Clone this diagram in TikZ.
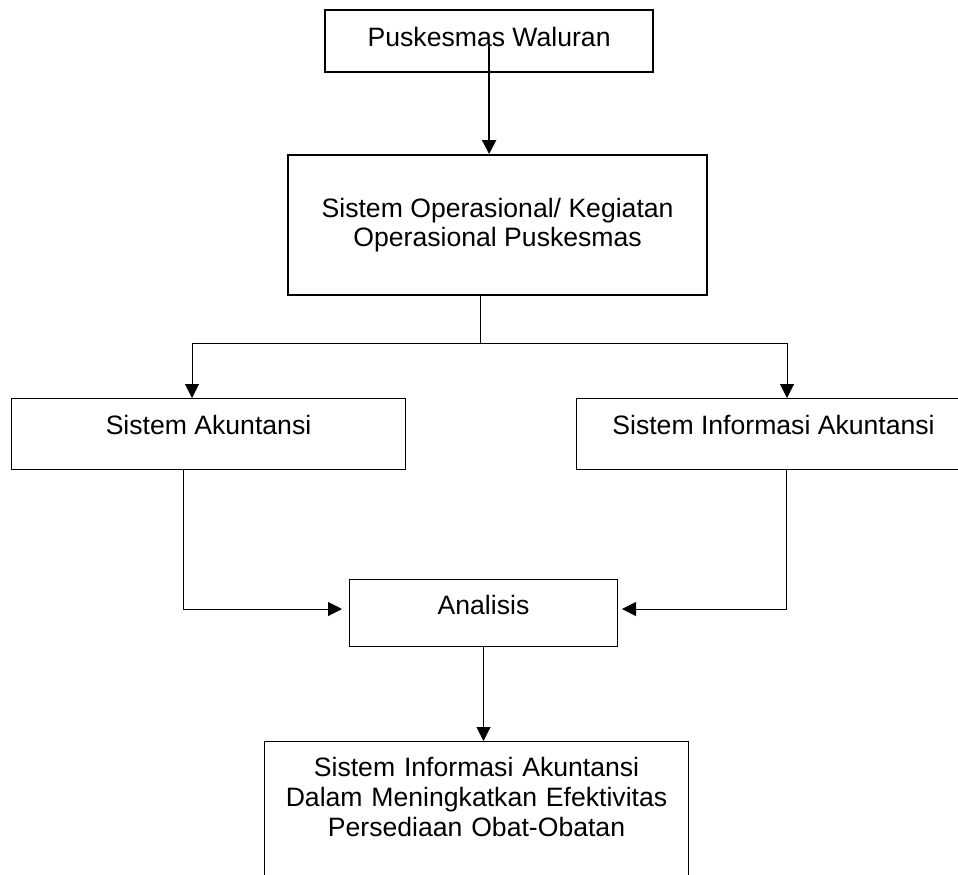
\documentclass[tikz,border=0pt]{standalone}
\usepackage{fontspec}
\setmainfont{Liberation Sans}
\usetikzlibrary{positioning,arrows.meta}

\begin{document}
\begin{tikzpicture}[
% Change style
	x=1pt, y=1pt,
	line width=0.5pt,
	font=\fontsize{13.3}{14.2}\selectfont,
	box/.style={draw, rectangle, anchor=north west, inner xsep=0pt, inner ysep=0pt, align=center},
	bold/.style={line width=1.1pt},
	post/.style={->, shorten >=0pt, >={Triangle[length=7pt,width=7pt]}}]

\useasboundingbox (0,0) rectangle (479,-437);
\clip (0,0) rectangle (479,-437);

% Puskesmas
\node[box, bold, minimum width=164pt,
	text height=18pt, text depth=13pt] (puskesmas) at (162,-4.5) {Puskesmas Waluran};

% Operasional
\node[box, bold, minimum width=209.5pt,
	minimum height=70pt] (operasional) at (143.5,-77) {Sistem Operasional/ Kegiatan\\Operasional Puskesmas};

% Sistem Akuntansi
\node[box, minimum width=197pt,
	text height=17.75pt, text depth=17.75pt] (akuntansi) at (5.5,-199) {Sistem Akuntansi};

% Sistem Informasi Akuntansi
\node[box, minimum width=197pt,
	text height=17.75pt, text depth=17.75pt] (sia) at (288,-199) {Sistem Informasi Akuntansi};

% Analisis
\node[box, minimum width=134pt,
	text height=17.25pt, text depth=16.25pt] (analisis) at (174.5,-289.5) {Analisis};

% Hasil
\node[box, text width=212pt, font=\fontsize{13.3}{15}\selectfont,
	text height=17.25pt, text depth=90pt] (hasil) at (132,-370.5) {Sistem Informasi Akuntansi\\Dalam Meningkatkan Efektivitas\\Persediaan Obat-Obatan};

% Branch points
\coordinate (cabang) at (240,-171.5);
\coordinate (kiri) at (96,-171.5);
\coordinate (kanan) at (393.5,-171.5);
\coordinate (belok1) at (91.5,-304.5);
\coordinate (belok2) at (393,-304.5);

% Connections
\draw (puskesmas.base) edge[post, bold] (puskesmas.base |- operasional.north)
	(cabang |- operasional.south) edge (cabang)
	(kiri) edge (kanan)
	(kiri) edge[post] (kiri |- akuntansi.north)
	(kanan) edge[post] (kanan |- sia.north)
	(analisis.south) edge[post] (analisis.south |- hasil.north);
\draw[post, shorten >=3.5pt] (belok1 |- akuntansi.south) -- (belok1) -- (belok1 -| analisis.west);
\draw[post, shorten >=2pt] (belok2 |- sia.south) -- (belok2) -- (belok2 -| analisis.east);

\end{tikzpicture}
\end{document}
